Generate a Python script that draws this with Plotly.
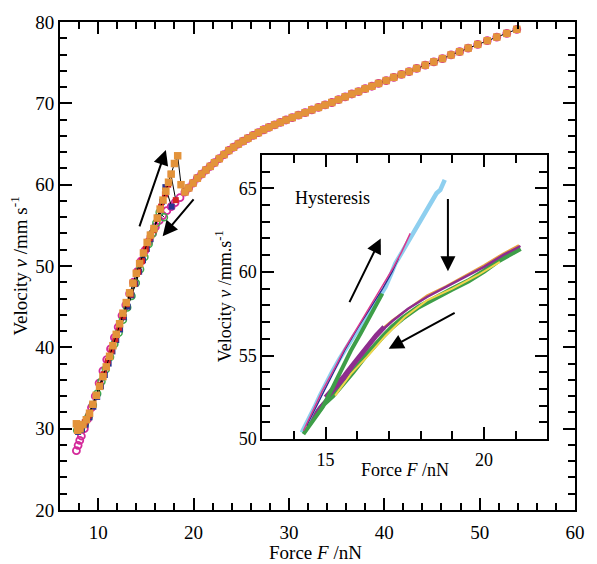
import plotly.graph_objects as go

# ---------------- main chart data ----------------
upper_F = [19.1, 19.5, 19.95, 20.4, 20.85, 21.3, 21.75, 22.2, 22.7, 23.2, 23.7, 24.2, 24.7, 25.2,
           25.7, 26.25, 26.8, 27.35, 27.9, 28.5, 29.1, 29.7, 30.35, 31.0, 31.7, 32.4, 33.1, 33.8,
           34.5, 35.2, 35.9, 36.6, 37.3, 38.0, 38.7, 39.4, 40.2, 41.0, 41.8, 42.6, 43.4, 44.3,
           45.2, 46.1, 47.0, 47.9, 48.8, 49.8, 50.8, 51.8, 52.85, 53.9]
upper_v = [59.1, 59.6, 60.2, 60.8, 61.3, 61.8, 62.25, 62.7, 63.2, 63.7, 64.2, 64.6, 65.0, 65.35,
           65.7, 66.05, 66.4, 66.75, 67.05, 67.35, 67.65, 67.95, 68.25, 68.55, 68.85, 69.2, 69.5, 69.8,
           70.1, 70.45, 70.8, 71.15, 71.45, 71.8, 72.1, 72.45, 72.8, 73.2, 73.55, 73.9, 74.3, 74.7,
           75.1, 75.5, 75.95, 76.35, 76.8, 77.25, 77.7, 78.15, 78.6, 79.1]

orange_low_F = [7.72, 7.85, 8.1, 8.41, 8.76, 9.1, 9.45, 9.8, 10.15, 10.5, 10.85, 11.2, 11.55, 11.9,
                12.25, 12.6, 12.95, 13.3, 13.65, 14.0, 14.35, 14.75, 15.14, 15.48,
                15.85, 16.2, 16.5, 16.8, 17.1, 17.38, 17.66, 18.0, 18.34, 18.69]
orange_low_v = [30.6, 29.8, 30.0, 30.5, 31.1, 31.9, 33.0, 34.1, 35.2, 36.4, 37.6, 38.9, 40.2, 41.6,
                42.9, 44.2, 45.5, 46.7, 47.9, 49.1, 50.3, 51.6, 52.9, 53.8,
                54.6, 55.9, 57.0, 58.1, 59.2, 60.3, 61.3, 62.6, 63.55, 60.0]

red_F = [7.8, 8.2, 8.6, 9.0, 9.4, 9.8, 10.2, 10.6, 11.0, 11.4, 11.8, 12.2, 12.6, 13.0, 13.4, 13.8,
         14.2, 14.6, 15.0, 15.4, 15.8, 16.2, 16.6, 17.0, 17.35, 17.62, 18.14]
red_v = [30.1, 30.3, 30.8, 31.6, 32.9, 34.1, 35.4, 36.7, 38.3, 39.6, 41.0, 42.4, 43.8, 45.3, 46.5, 47.8,
         49.3, 50.6, 52.1, 53.4, 54.4, 55.8, 57.3, 58.8, 60.0, 61.3, 58.1]

navy_F = [7.9, 8.3, 8.7, 9.1, 9.5, 9.9, 10.3, 10.7, 11.1, 11.5, 11.9, 12.3, 12.7, 13.1, 13.5, 13.9,
          14.3, 14.7, 15.1, 15.5, 15.9, 16.3, 16.7, 17.05, 17.7]
navy_v = [29.6, 29.9, 30.5, 31.4, 32.7, 33.9, 35.2, 36.6, 38.0, 39.5, 40.9, 42.2, 43.7, 45.0, 46.4, 47.8,
          49.3, 50.7, 52.1, 53.3, 54.6, 56.0, 57.9, 59.7, 57.3]

green_F = [7.8, 8.2, 8.6, 9.0, 9.45, 9.9, 10.35, 10.8, 11.25, 11.7, 12.15, 12.6, 13.05, 13.5, 13.95,
           14.4, 14.85, 15.3, 15.7, 16.1, 16.45, 16.9]
green_v = [29.8, 30.0, 30.6, 31.5, 32.9, 34.3, 35.8, 37.3, 38.8, 40.4, 41.8, 43.4, 44.9, 46.3, 47.9,
           49.6, 51.1, 52.7, 54.0, 55.3, 56.6, 56.0]

magenta_down_F = [18.58, 18.07, 17.66, 17.2, 16.77, 16.41, 16.0, 15.7, 15.3, 14.9, 14.5, 14.1, 13.7,
                  13.3, 12.9, 12.5, 12.1, 11.7, 11.3, 10.9, 10.5, 10.1, 9.7, 9.3, 8.9, 8.55, 8.24,
                  8.07, 7.9, 7.72]
magenta_down_v = [58.4, 57.8, 57.3, 56.8, 56.2, 55.6, 54.8, 54.0, 53.0, 51.9, 50.6, 49.3, 48.0,
                  46.6, 45.2, 43.9, 42.5, 41.2, 39.8, 38.5, 37.1, 35.6, 34.0, 32.6, 31.2, 30.0, 29.1,
                  28.55, 27.95, 27.3]

# ---------------- inset data ----------------
lb_up_F = [14.25, 14.45, 14.65, 14.82, 15.0, 15.2, 15.44, 15.65, 15.9, 16.17, 16.4, 16.65, 16.89,
           17.05, 17.2, 17.45, 17.72, 17.98, 18.24, 18.5, 18.62, 18.76]
lb_up_v = [50.4, 51.1, 51.9, 52.6, 53.3, 54.0, 54.8, 55.5, 56.2, 56.9, 57.6, 58.4, 59.1,
           59.8, 60.5, 61.3, 62.2, 63.0, 63.8, 64.7, 64.9, 65.5]

green_up_F = [14.3, 14.6, 14.9, 15.2, 15.5, 15.8, 16.1, 16.45, 16.79]
green_up_v = [50.3, 51.1, 51.9, 53.0, 54.2, 55.3, 56.3, 57.5, 58.7]

magenta_up_F = [14.3, 14.6, 14.9, 15.3, 15.6, 15.95, 16.3, 16.6, 16.9, 17.15, 17.4, 17.67]
magenta_up_v = [50.5, 51.7, 52.9, 54.3, 55.4, 56.5, 57.6, 58.5, 59.5, 60.3, 61.2, 62.3]

navy_up_F = [14.4, 14.8, 15.2, 15.6, 16.0, 16.4, 16.8, 17.1, 17.3]
navy_up_v = [50.8, 52.3, 53.8, 55.3, 56.6, 57.8, 59.0, 60.0, 60.8]

green_down_F = [21.15, 20.8, 20.4, 20.0, 19.5, 18.97, 18.45, 17.93, 17.41, 17.1, 16.79, 16.5, 16.27,
                15.86, 15.55, 15.23, 14.95, 14.7, 14.45, 14.3]
green_down_v = [61.4, 61.05, 60.6, 60.05, 59.45, 58.95, 58.45, 57.9, 57.2, 56.7, 56.1, 55.5, 55.0,
                54.0, 53.3, 52.6, 52.1, 51.5, 50.9, 50.4]

orange_down_F = [21.1, 20.6, 20.0, 19.4, 18.8, 18.2, 17.6, 17.1, 16.6, 16.1, 15.6, 15.1]
orange_down_v = [61.6, 61.1, 60.4, 59.75, 59.15, 58.6, 57.8, 57.1, 56.3, 55.1, 53.8, 52.7]

yellow_down_F = [20.5, 19.8, 19.0, 18.2, 17.5, 16.9, 16.3, 15.8, 15.3]
yellow_down_v = [60.6, 59.8, 59.0, 58.3, 57.3, 56.2, 54.9, 53.9, 52.6]

purple_down_F = [21.15, 20.6, 20.0, 19.4, 18.8, 18.2, 17.6, 17.1, 16.6, 16.1, 15.6, 15.2, 14.8, 14.5]
purple_down_v = [61.55, 61.0, 60.3, 59.7, 59.1, 58.5, 57.8, 57.05, 56.2, 55.0, 53.6, 52.75, 51.9, 51.1]

purple_thick_F = [15.0, 15.2, 15.4, 15.6, 15.8, 16.0, 16.2, 16.4, 16.6, 16.85]
purple_thick_v = [52.5, 52.9, 53.3, 53.8, 54.3, 54.8, 55.2, 55.7, 56.2, 56.7]

FONT = "Liberation Serif"
ORANGE = "#E3933A"
MAGENTA = "#D42A9A"

fig = go.Figure()

# main traces
fig.add_trace(go.Scatter(x=upper_F[::-1] + magenta_down_F, y=upper_v[::-1] + magenta_down_v,
                         mode="markers", marker=dict(symbol="circle-open", size=7, color=MAGENTA,
                                                     line=dict(width=1.8, color=MAGENTA)),
                         xaxis="x", yaxis="y", showlegend=False))
fig.add_trace(go.Scatter(x=green_F, y=green_v, mode="lines+markers",
                         line=dict(color="black", width=1),
                         marker=dict(symbol="circle-open", size=7, color="#3DAA4A",
                                     line=dict(width=1.5, color="#3DAA4A")),
                         xaxis="x", yaxis="y", showlegend=False))
fig.add_trace(go.Scatter(x=navy_F, y=navy_v, mode="lines+markers",
                         line=dict(color="black", width=1),
                         marker=dict(symbol="square", size=6, color="#2A3590"),
                         xaxis="x", yaxis="y", showlegend=False))
fig.add_trace(go.Scatter(x=red_F, y=red_v, mode="lines+markers",
                         line=dict(color="black", width=1),
                         marker=dict(symbol="square", size=6, color="#D42424"),
                         xaxis="x", yaxis="y", showlegend=False))
fig.add_trace(go.Scatter(x=orange_low_F + upper_F, y=orange_low_v + upper_v, mode="lines+markers",
                         line=dict(color="black", width=1),
                         marker=dict(symbol="square", size=7.5, color=ORANGE),
                         xaxis="x", yaxis="y", showlegend=False))

# inset traces
def inset_line(xs, ys, color, width):
    fig.add_trace(go.Scatter(x=xs, y=ys, mode="lines", line=dict(color=color, width=width),
                             xaxis="x2", yaxis="y2", showlegend=False))

inset_line(green_down_F, green_down_v, "#3E9E48", 5)
inset_line(orange_down_F, orange_down_v, "#E8A040", 2)
inset_line(yellow_down_F, yellow_down_v, "#F2D64B", 2)
inset_line(purple_down_F, purple_down_v, "#8E2D8E", 2.5)
inset_line(purple_thick_F, purple_thick_v, "#8E2D8E", 5)
inset_line(lb_up_F, lb_up_v, "#8ECFEF", 4.5)
inset_line(green_up_F, green_up_v, "#3E9E48", 4)
inset_line(navy_up_F, navy_up_v, "#2C2C8C", 1.3)
inset_line(magenta_up_F, magenta_up_v, "#D93A8E", 1.5)

axis_common = dict(showline=True, linewidth=2, linecolor="black", mirror="ticks",
                   ticks="inside", tickwidth=2, tickcolor="black", showgrid=False,
                   zeroline=False, tickfont=dict(family=FONT, size=19, color="black"))

fig.update_layout(
    width=597, height=564,
    margin=dict(l=60, r=15, t=14, b=54),
    paper_bgcolor="white", plot_bgcolor="white",
    xaxis=dict(**axis_common, domain=[0, 1], anchor="y", range=[6, 60], tick0=0, dtick=10,
               ticklen=12, ticklabelstandoff=4,
               minor=dict(dtick=2, ticklen=7, tickwidth=2, ticks="inside",
                          tickcolor="black", showgrid=False)),
    yaxis=dict(**axis_common, domain=[0, 1], anchor="x", range=[20, 80], tick0=0, dtick=10,
               ticklen=12, minor=dict(dtick=2, ticklen=7, tickwidth=2, ticks="inside",
                                      tickcolor="black", showgrid=False)),
    xaxis2=dict(**{**axis_common, "tickfont": dict(family=FONT, size=18, color="black")},
                domain=[0.3927, 0.9464], anchor="y2", range=[13, 22], tick0=0, dtick=5,
                ticklen=12, ticklabelstandoff=3,
                minor=dict(dtick=1, ticklen=8, tickwidth=2, ticks="inside",
                           tickcolor="black", showgrid=False)),
    yaxis2=dict(**{**axis_common, "tickfont": dict(family=FONT, size=18, color="black")},
                domain=[0.1452, 0.7278], anchor="x2", range=[50, 67], tick0=0, dtick=5,
                ticklen=12, minor=dict(dtick=1, ticklen=8, tickwidth=2, ticks="inside",
                                       tickcolor="black", showgrid=False)),
)

tf = dict(family=FONT, size=19, color="black")
annots = [
    dict(text="Force <i>F</i> /nN", xref="paper", yref="paper", x=0.496, y=-0.0867,
         showarrow=False, font=tf, xanchor="center", yanchor="middle"),
    dict(text="Velocity <i>v</i> /mm s<sup>-1</sup>", xref="paper", yref="paper", x=-0.0805, y=0.5,
         showarrow=False, font=tf, textangle=-90, xanchor="center", yanchor="middle"),
    dict(text="Force <i>F</i> /nN", xref="paper", yref="paper", x=0.6705, y=0.0827,
         showarrow=False, font=dict(family=FONT, size=18, color="black"),
         xanchor="center", yanchor="middle"),
    dict(text="Velocity <i>v</i> /mm.s<sup>-1</sup>", xref="paper", yref="paper", x=0.318, y=0.4375,
         showarrow=False, font=dict(family=FONT, size=18, color="black"), textangle=-90,
         xanchor="center", yanchor="middle"),
    dict(text="Hysteresis", xref="paper", yref="paper", x=0.5287, y=0.639,
         showarrow=False, font=dict(family=FONT, size=18, color="black"),
         xanchor="center", yanchor="middle"),
]
arrow_style = dict(showarrow=True, arrowhead=2, arrowsize=1.5, arrowwidth=2, arrowcolor="black", text="")
annots += [
    dict(x=17.1, y=64.27, ax=14.28, ay=54.68, xref="x", yref="y", axref="x", ayref="y", **arrow_style),
    dict(x=16.76, y=53.67, ax=20.14, ay=58.38, xref="x", yref="y", axref="x", ayref="y", **arrow_style),
    dict(x=16.74, y=62.0, ax=15.73, ay=58.1, xref="x2", yref="y2", axref="x2", ayref="y2", **arrow_style),
    dict(x=18.86, y=60.04, ax=18.86, ay=64.45, xref="x2", yref="y2", axref="x2", ayref="y2", **arrow_style),
    dict(x=16.99, y=55.4, ax=19.12, ay=57.6, xref="x2", yref="y2", axref="x2", ayref="y2", **arrow_style),
]
fig.update_layout(annotations=annots)

fig.write_html("out.html")
